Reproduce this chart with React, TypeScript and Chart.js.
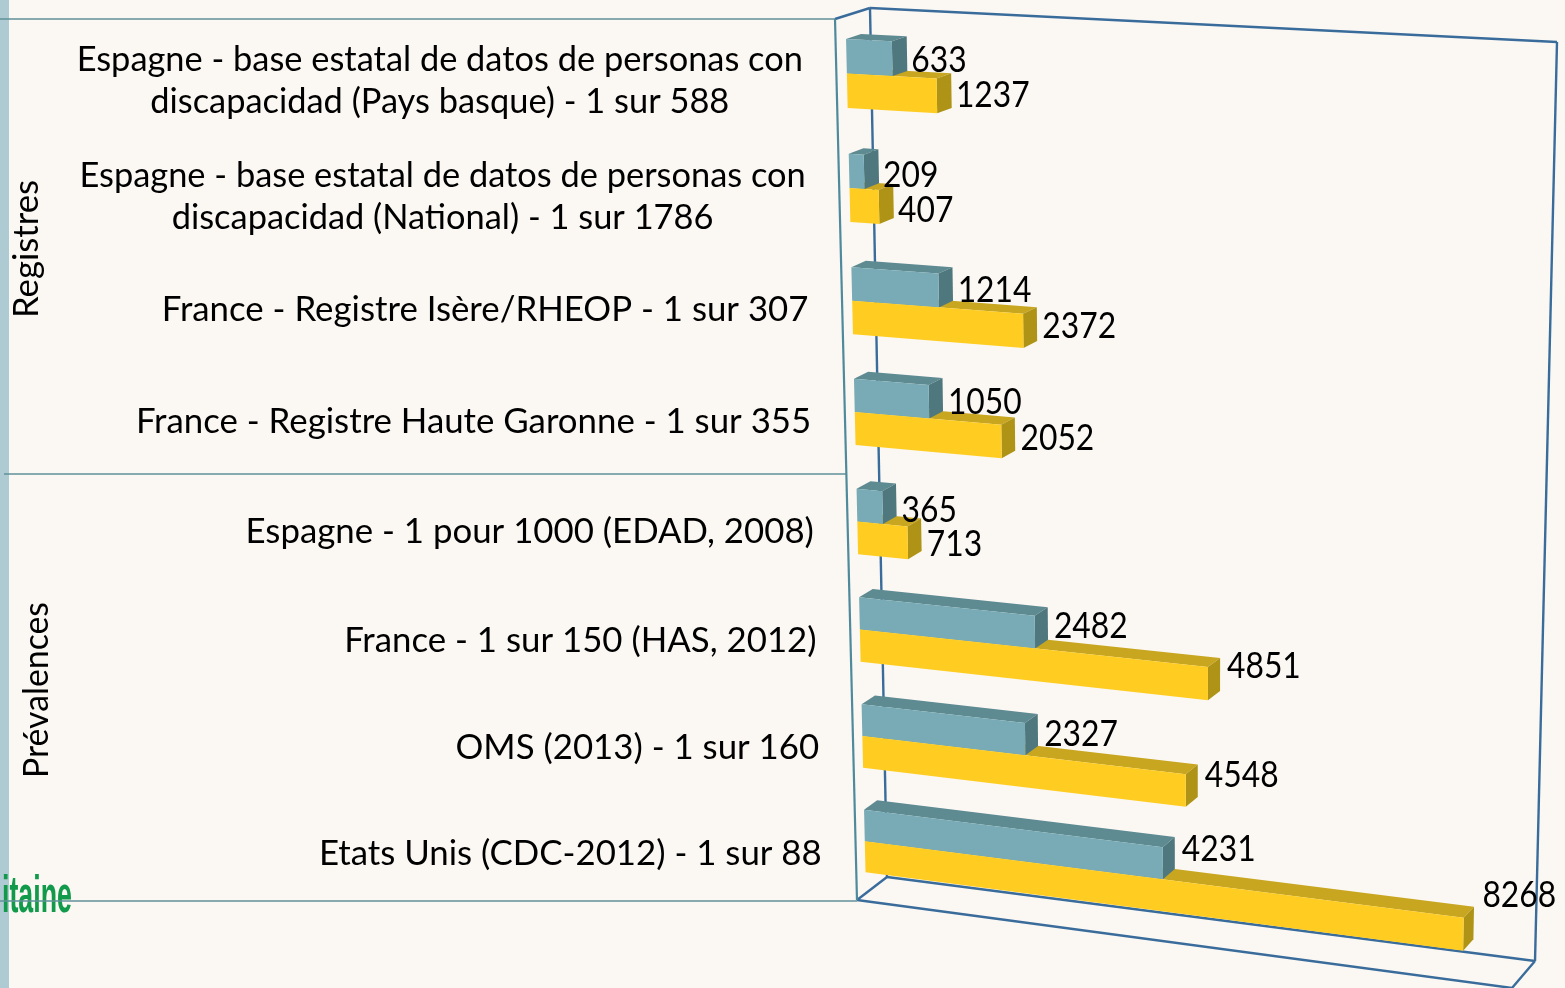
import React, { useEffect, useRef } from "react";
import { Chart, registerables } from "chart.js";

Chart.register(...registerables);

const categories: string[][] = [
  ["Espagne - base estatal de datos de personas con", "discapacidad (Pays basque) - 1 sur 588"],
  ["Espagne - base estatal de datos de personas con", "discapacidad (National) - 1 sur 1786"],
  ["France - Registre Isère/RHEOP - 1 sur 307"],
  ["France - Registre Haute Garonne - 1 sur 355"],
  ["Espagne - 1 pour 1000 (EDAD, 2008)"],
  ["France - 1 sur 150 (HAS, 2012)"],
  ["OMS (2013) - 1 sur 160"],
  ["Etats Unis (CDC-2012) - 1 sur 88"],
];
const lowerValues = [633, 209, 1214, 1050, 365, 2482, 2327, 4231];
const upperValues = [1237, 407, 2372, 2052, 713, 4851, 4548, 8268];
const axisMax = 9000;

const FONT = "Lato";
const BG = "#fbf8f4";
const TEAL = { front: "#78abb6", top: "#5e8a92", side: "#4f787e" };
const YELLOW = { front: "#ffcd22", top: "#c8a620", side: "#af9317" };
const FRAME = "#3a6c9b";
const FRAME_LEFT = "#4f8a9c";
const RULE = "#5f9099";

type P = [number, number];

function quad(p0: P, p1: P, p2: P, p3: P) {
  const [x0, y0] = p0, [x1, y1] = p1, [x2, y2] = p2, [x3, y3] = p3;
  const dx1 = x1 - x2, dx2 = x3 - x2, dy1 = y1 - y2, dy2 = y3 - y2;
  const sx = x0 - x1 + x2 - x3, sy = y0 - y1 + y2 - y3;
  const den = dx1 * dy2 - dx2 * dy1;
  const g = (sx * dy2 - dx2 * sy) / den, h = (dx1 * sy - sx * dy1) / den;
  const a = x1 - x0 + g * x1, b = x3 - x0 + h * x3;
  const d = y1 - y0 + g * y1, e = y3 - y0 + h * y3;
  return (u: number, t: number): P => {
    const q = g * u + h * t + 1;
    return [(a * u + b * t + x0) / q, (d * u + e * t + y0) / q];
  };
}

const frontPlane = quad([835, 19], [1530, 53], [1512, 988], [857, 900]);
const backPlane = quad([870, 8], [1557, 42], [1535, 961], [887, 877]);
const project = (u: number, t: number, w: number): P => {
  const f = frontPlane(u, t), b = backPlane(u, t);
  return [f[0] + (b[0] - f[0]) * w, f[1] + (b[1] - f[1]) * w];
};

const W_NEAR = 0.3, W_FAR = 0.73;

const box3d = {
  id: "box3d",
  afterDatasetsDraw(chart: any) {
    const { ctx, chartArea: ca } = chart;
    const nu = (x: number) => (x - ca.left) / (ca.right - ca.left);
    const nt = (y: number) => (y - ca.top) / (ca.bottom - ca.top);
    const poly = (pts: P[], fill: string) => {
      ctx.beginPath();
      pts.forEach((p, i) => (i ? ctx.lineTo(p[0], p[1]) : ctx.moveTo(p[0], p[1])));
      ctx.closePath();
      ctx.fillStyle = fill;
      ctx.fill();
    };
    const line = (a: P, b: P, color: string, width: number) => {
      ctx.beginPath();
      ctx.moveTo(a[0], a[1]);
      ctx.lineTo(b[0], b[1]);
      ctx.strokeStyle = color;
      ctx.lineWidth = width;
      ctx.stroke();
    };
    ctx.save();
    // page furniture
    ctx.fillStyle = "#aecbd3";
    ctx.fillRect(0, 0, 9, 988);
    ctx.save();
    ctx.translate(2, 912);
    ctx.scale(0.515, 1);
    ctx.font = "bold 52px 'Liberation Sans'";
    ctx.fillStyle = "#129a4b";
    ctx.textAlign = "left";
    ctx.textBaseline = "alphabetic";
    ctx.fillText("itaine", 0, 0);
    ctx.restore();
    line([0, 19], [835, 19], RULE, 1.5);
    line([4, 474], [846, 474], RULE, 1.5);
    line([0, 901], [857, 901], RULE, 1.5);

    // frame
    const c = (u: number, t: number, w: number) => project(u, t, w);
    [
      [c(0, 0, 1), c(1, 0, 1)],
      [c(1, 0, 1), c(1, 1, 1)],
      [c(0, 0, 1), c(0, 1, 1)],
      [c(0, 1, 1), c(1, 1, 1)],
      [c(0, 0, 0), c(0, 0, 1)],
      [c(0, 1, 0), c(0, 1, 1)],
      [c(0, 1, 0), c(1, 1, 0)],
      [c(1, 1, 0), c(1, 1, 1)],
    ].forEach(([a, b]) => line(a as P, b as P, FRAME, 2.4));
    line(c(0, 0, 0), c(0, 1, 0), FRAME_LEFT, 2.2);

    // bars
    const metaA = chart.getDatasetMeta(0).data;
    const metaB = chart.getDatasetMeta(1).data;
    const faces = (el: any) => {
      const u0 = nu(el.base), u1 = nu(el.x);
      const t0 = nt(el.y - el.height / 2), t1 = nt(el.y + el.height / 2);
      return {
        front: [project(u0, t0, W_NEAR), project(u1, t0, W_NEAR), project(u1, t1, W_NEAR), project(u0, t1, W_NEAR)] as P[],
        top: [project(u0, t0, W_NEAR), project(u1, t0, W_NEAR), project(u1, t0, W_FAR), project(u0, t0, W_FAR)] as P[],
        side: [project(u1, t0, W_NEAR), project(u1, t0, W_FAR), project(u1, t1, W_FAR), project(u1, t1, W_NEAR)] as P[],
      };
    };
    metaA.forEach((elA: any, i: number) => {
      const a = faces(elA), b = faces(metaB[i]);
      poly(b.top, YELLOW.top);
      poly(b.side, YELLOW.side);
      poly(a.top, TEAL.top);
      poly(a.side, TEAL.side);
      poly(a.front, TEAL.front);
      poly(b.front, YELLOW.front);
    });

    // value labels
    ctx.fillStyle = "#000";
    ctx.font = `37px ${FONT}`;
    ctx.textAlign = "left";
    ctx.textBaseline = "middle";
    [metaA, metaB].forEach((meta: any[], ds: number) => {
      meta.forEach((el: any, i: number) => {
        const v = (ds === 0 ? lowerValues : upperValues)[i];
        const p = project(nu(el.x), nt(el.y), W_NEAR);
        ctx.save();
        ctx.translate(p[0] + 19, p[1] + 4 - 0.0033 * v - 2.3e-7 * v * v);
        ctx.scale(0.86, 1);
        ctx.fillText(String(v), 0, 0);
        ctx.restore();
      });
    });

    // category labels
    const yScale = chart.scales.y;
    ctx.textAlign = "center";
    categories.forEach((lines, i) => {
      ctx.font = `${lines.length > 1 ? 34.4 : 34.8}px ${FONT}`;
      const t = nt(yScale.getPixelForValue(i));
      const p = project(0, t, W_NEAR);
      const widest = Math.max(...lines.map((s) => ctx.measureText(s).width));
      const cx = p[0] - 44 + t * 1 - widest / 2;
      lines.forEach((s, k) => {
        const off = (k - (lines.length - 1) / 2) * 42;
        ctx.fillText(s, cx, p[1] + 7.5 + 5 * t + off);
      });
    });

    // group titles
    ctx.font = `35px ${FONT}`;
    ([["Registres", 27, 249, 138], ["Prévalences", 37, 690, 176]] as [string, number, number, number][]).forEach(([s, x, y, w]) => {
      ctx.save();
      ctx.translate(x, y);
      ctx.rotate(-Math.PI / 2);
      ctx.fillText(s, 0, 0, w);
      ctx.restore();
    });
    ctx.restore();
  },
};

export default function App() {
  const ref = useRef<HTMLCanvasElement>(null);
  useEffect(() => {
    const chart = new Chart(ref.current as HTMLCanvasElement, {
      type: "bar",
      data: {
        labels: categories as any,
        datasets: [
          { data: lowerValues, backgroundColor: "transparent" },
          { data: upperValues, backgroundColor: "transparent" },
        ],
      },
      options: {
        indexAxis: "y",
        responsive: false,
        animation: false,
        layout: { padding: 0 },
        categoryPercentage: 0.6,
        barPercentage: 1,
        plugins: { legend: { display: false }, tooltip: { enabled: false } },
        scales: {
          x: { display: false, min: 0, max: axisMax },
          y: { display: false },
        },
      } as any,
      plugins: [box3d],
    });
    return () => chart.destroy();
  }, []);
  return (
    <div style={{ position: "absolute", left: 0, top: 0, width: 1565, height: 988, background: BG, overflow: "hidden" }}>
      <canvas ref={ref} width={1565} height={988} style={{ display: "block" }} />
    </div>
  );
}
